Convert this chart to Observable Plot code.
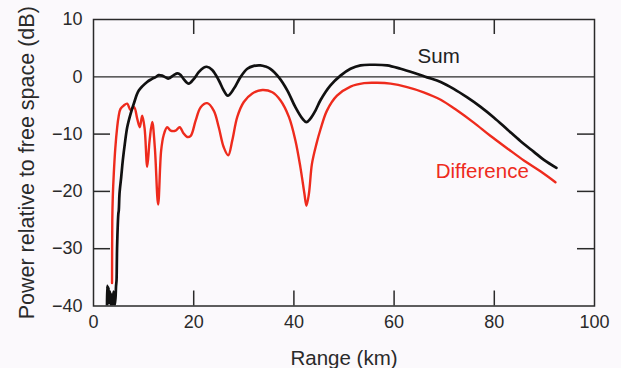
<!DOCTYPE html>
<html>
<head>
<meta charset="utf-8">
<script src="https://cdn.jsdelivr.net/npm/d3@7"></script>
<script src="https://cdn.jsdelivr.net/npm/@observablehq/plot@0.6"></script>
<style>
  html, body { margin: 0; padding: 0; background: #fbf9fc; }
</style>
</head>
<body>
<div id="chart"></div>
<script>
// ---- data ----
const xTickValues = [0, 20, 40, 60, 80, 100];
const yTickValues = [10, 0, -10, -20, -30, -40];
const xInnerTicks = [20, 40, 60, 80];
const yInnerTicks = [-10, -20, -30];

const xTitle = "Range (km)";
const yTitle = "Power relative to free space (dB)";

const seriesNames = ["Sum", "Difference"];
const labelKm = [68.9, 77.6];
const labelDb = [3.5, -16.6];

// Sum (black)
const sumKm = [2.7, 2.75, 2.9, 3.0, 3.1, 3.3, 3.5, 3.6, 3.8, 4.0, 4.2, 4.4, 4.5, 4.6, 4.65, 4.7, 4.8, 4.95, 5.05,
  5.19, 5.53, 5.85, 6.25, 6.73, 7.39, 8.04, 9.04, 10.7, 11.6, 12.4, 13.0, 13.7, 14.4, 15.0, 16.0, 16.8, 17.4, 18.0,
  19.0, 20.0, 21.0, 22.0, 22.6, 23.7, 25.0, 26.0, 26.8, 28.0, 29.3, 30.7, 32.0, 33.3, 34.3, 35.3, 37.0, 38.7, 40.3,
  41.7, 42.5, 43.3, 44.3, 45.3, 47.3, 49.3, 51.3, 53.3, 55.6, 58.6, 61.3, 63.9, 66.6, 69.3, 71.9, 74.6, 77.2, 79.9,
  82.6, 85.2, 87.9, 89.9, 92.4];
const sumDb = [-40, -36.5, -38, -36.8, -39.5, -37.5, -40, -38, -39.8, -37.5, -40, -38.5, -36.5, -35.5, -33, -30, -27, -24, -23.3,
  -20.4, -17.5, -14.6, -11.7, -8.8, -6.5, -4.7, -2.4, -0.9, -0.4, -0.05, 0.3, 0.2, -0.1, -0.3, 0.3, 0.6, 0.3, -0.4,
  -1.2, -0.4, 0.8, 1.6, 1.75, 1.2, -0.6, -2.4, -3.3, -2.1, -0.1, 1.4, 1.9, 2.0, 1.8, 1.4, -0.1, -2.4, -5.3,
  -7.3, -7.9, -7.3, -5.9, -4.1, -1.5, 0.2, 1.4, 2.0, 2.1, 2.0, 1.4, 0.7, -0.1, -0.9, -2.1, -3.6, -5.2, -7.1,
  -9.2, -11.2, -13.1, -14.5, -15.9];

// Difference (red)
const diffKm = [3.7, 3.72, 3.75, 3.85, 4.05, 4.35, 4.73, 5.0, 5.39, 6.05, 6.73, 7.39, 8.1, 8.72, 9.24, 9.72, 10.2,
  10.72, 11.2, 11.72, 12.24, 12.9, 13.5, 14.0, 14.7, 15.4, 16.4, 17.2, 18.0, 18.7, 19.4, 20.4, 21.4, 22.7, 24.0,
  25.0, 26.0, 26.9, 27.7, 28.7, 30.0, 31.7, 33.7, 35.7, 37.3, 39.0, 40.3, 41.3, 42.1, 42.5, 43.0, 43.6, 44.5, 45.3,
  46.6, 48.6, 51.3, 54.0, 56.6, 59.3, 62.6, 65.9, 69.3, 72.6, 75.9, 79.2, 82.6, 85.9, 89.2, 92.2];
const diffDb = [-36, -30, -25, -21, -16.9, -12.5, -8.8, -7, -5.6, -5.0, -4.7, -5.8, -5.3, -7.3, -8.8, -6.8, -9.0,
  -15.7, -11.1, -7.9, -12.3, -22.3, -12.9, -10.2, -8.8, -9.4, -9.4, -8.8, -9.9, -10.5, -10.3, -7.6, -5.3, -4.6, -5.9,
  -8.8, -12.3, -13.7, -11.1, -7.0, -4.4, -2.9, -2.3, -2.7, -4.1, -7.0, -11.1, -15.8, -20.4, -22.5, -20.4, -15.2, -11.7, -9.2,
  -5.9, -3.3, -1.7, -1.1, -1.05, -1.2, -1.8, -2.7, -4.0, -5.9, -8.0, -10.3, -12.5, -14.6, -16.5, -18.4];

// ---- build tables ----
const sumRows = sumKm.map((k, i) => ({km: k, db: sumDb[i]}));
const diffRows = diffKm.map((k, i) => ({km: k, db: diffDb[i]}));
const labelRows = seriesNames.map((s, i) => ({name: s, km: labelKm[i], db: labelDb[i]}));

const W = 621, H = 368;
const mL = 93, mR = 27, mT = 19, mB = 62.5;
const plotW = W - mL - mR, plotH = H - mT - mB;
const ink = "#2a2a2a";
const red = "#ee2b1d";

const chart = Plot.plot({
  width: W,
  height: H,
  marginLeft: mL,
  marginRight: mR,
  marginTop: mT,
  marginBottom: mB,
  x: {domain: [0, 100]},
  y: {domain: [-40, 10]},
  style: {background: "#fbf9fc", fontFamily: "'Liberation Sans', Arial, Helvetica, sans-serif", color: ink},
  marks: [
    Plot.ruleY([0], {stroke: ink, strokeWidth: 1.2}),
    // inward ticks
    Plot.tickX(xInnerTicks, {x: d => d, insetTop: plotH - 15, stroke: ink, strokeWidth: 1.5}),
    Plot.tickX(xInnerTicks, {x: d => d, insetBottom: plotH - 15, stroke: ink, strokeWidth: 1.5}),
    Plot.tickY(yInnerTicks, {y: d => d, insetRight: plotW - 17, stroke: ink, strokeWidth: 1.5}),
    Plot.tickY(yInnerTicks, {y: d => d, insetLeft: plotW - 17, stroke: ink, strokeWidth: 1.5}),
    Plot.axisX(xTickValues, {tickSize: 0, tickPadding: 9, fontSize: 18, label: null, fill: ink}),
    Plot.axisY(yTickValues, {tickSize: 0, tickPadding: 11, fontSize: 18, label: null, fill: ink}),
    Plot.line(diffRows, {x: "km", y: "db", curve: "catmull-rom", stroke: red, strokeWidth: 2.4, clip: true}),
    Plot.line(sumRows, {x: "km", y: "db", curve: "catmull-rom", stroke: "#111", strokeWidth: 2.7, clip: true}),
    Plot.frame({stroke: ink, strokeWidth: 1.5}),
    Plot.text(labelRows, {x: "km", y: "db", text: "name", fontSize: 20.5, textAnchor: "middle", lineAnchor: "middle",
      fill: (d, i) => i === 0 ? "#222" : red}),
    Plot.text([xTitle], {frameAnchor: "bottom", dy: 44.5, lineAnchor: "top", fontSize: 20.5, fill: ink}),
    Plot.text([yTitle], {frameAnchor: "left", dx: -60, rotate: -90, lineAnchor: "bottom", textAnchor: "middle", fontSize: 21.5, fill: ink})
  ]
});
document.getElementById("chart").appendChild(chart);
</script>
</body>
</html>
